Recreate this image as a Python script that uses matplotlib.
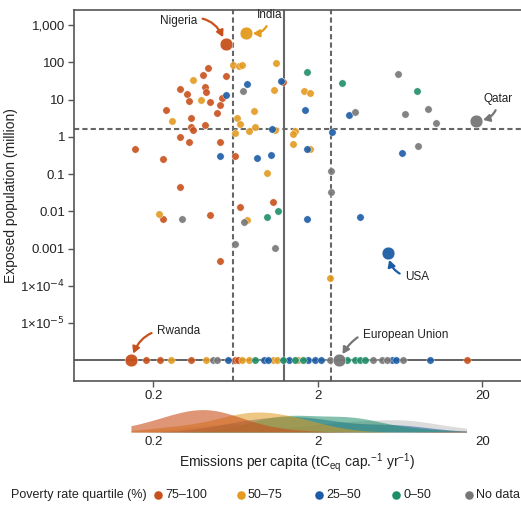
import numpy as np
import matplotlib
matplotlib.use('Agg')
import matplotlib.pyplot as plt
from matplotlib.lines import Line2D
from matplotlib.ticker import FixedLocator, FixedFormatter, NullLocator

plt.rcParams['font.family'] = ['Liberation Sans', 'DejaVu Sans']

# ---------------- data ----------------
categories = ['75–100', '50–75', '25–50', '0–50', 'No data']
colors = ['#C8501C', '#E39A1F', '#1B5CA5', '#1E8E68', '#767676']

# emissions per capita (tCeq cap-1 yr-1) and exposed population (million); 0 = no exposed population
red_x = [0.43, 0.40, 0.55, 0.29, 0.41, 0.42, 0.32, 0.52, 0.33, 0.44, 0.51, 0.24, 0.49, 0.34,
         0.41, 0.34, 0.35, 0.29, 0.33, 0.51, 0.155, 0.63, 0.23, 0.29, 1.22, 0.67, 1.06, 0.51,
         0.23, 0.44,
         0.18, 0.22, 0.34, 0.63, 0.65, 16.0]
red_y = [72, 47, 43, 19, 22, 16, 14, 11, 9.3, 8.7, 7.4, 5.2, 4.5, 3.2,
         2.1, 1.8, 1.54, 1.0, 0.73, 0.72, 0.47, 0.30, 0.25, 0.044, 30, 0.0134, 0.0176, 0.00045,
         0.0064, 0.008,
         0, 0, 0, 0, 0, 0]

gold_x = [0.61, 0.66, 0.69, 0.35, 0.39, 0.82, 0.26, 0.64, 0.67, 0.83, 0.76, 0.63, 1.11, 1.08,
          1.64, 1.79, 1.10, 1.45, 1.42, 1.42, 1.78, 0.98, 0.74, 0.217, 2.38,
          0.256, 0.42, 0.69, 0.76, 1.07, 1.12, 1.52]
gold_y = [86, 81, 85, 33, 10, 5.1, 2.7, 3.2, 2.2, 1.8, 1.45, 1.26, 94, 18,
          17, 15, 1.5, 1.45, 1.18, 0.63, 0.47, 0.108, 0.0058, 0.0087, 0.000165,
          0, 0, 0, 0, 0, 0, 0]

blue_x = [0.74, 0.55, 1.19, 1.68, 3.1, 1.05, 2.45, 1.71, 6.5, 1.04, 0.51, 0.85, 1.72, 3.59,
          0.57, 0.94, 1.0, 1.33, 1.75, 1.92, 2.1, 5.6, 6.0, 9.6]
blue_y = [26, 13.5, 32, 5.4, 3.8, 1.64, 1.39, 0.48, 0.37, 0.32, 0.31, 0.27, 0.0064, 0.007,
          0, 0, 0, 0, 0, 0, 0, 0, 0, 0]

green_x = [1.72, 2.79, 8.0, 1.14, 0.98,
           0.83, 1.23, 1.46, 1.63, 2.99, 3.36, 3.6, 3.86]
green_y = [54, 28, 17, 0.0103, 0.0071,
           0, 0, 0, 0, 0, 0, 0, 0]

gray_x = [0.70, 6.15, 3.36, 9.3, 6.8, 10.4, 8.1, 2.39, 2.39, 0.71, 0.30, 0.63, 1.10,
          0.46, 0.49, 2.36, 4.34, 4.88, 5.23, 6.6]
gray_y = [17, 49, 4.8, 5.7, 4.2, 2.3, 0.57, 0.12, 0.033, 0.0052, 0.0064, 0.00133, 0.00104,
          0, 0, 0, 0, 0, 0, 0]

# highlighted countries
hl_names = ['Nigeria', 'India', 'Qatar', 'USA', 'European Union', 'Rwanda']
hl_x = [0.55, 0.73, 18.3, 5.3, 2.69, 0.146]
hl_y = [320, 630, 2.7, 0.00075, 0, 0]
hl_cat = [0, 1, 4, 2, 4, 0]

# reference lines
vline_dashed = [0.61, 2.39]
vline_solid = 1.24
hline_dashed = 1.67

# emissions range covered by the density strip
kde_range = [0.146, 16.0]

xticks = [0.2, 2, 20]
xtick_labels = ['0.2', '2', '20']
yticks = [1000, 100, 10, 1, 0.1, 0.01, 0.001, 1e-4, 1e-5]
ytick_labels = ['1,000', '100', '10', '1', '0.1', '0.01', '0.001',
                '1×10$^{-4}$', '1×10$^{-5}$']

ZERO_Y = 1e-6

series_x = [red_x, gold_x, blue_x, green_x, gray_x]
series_y = [red_y, gold_y, blue_y, green_y, gray_y]

# ---------------- figure ----------------
W, H = 521, 508
fig = plt.figure(figsize=(W / 100, H / 100), dpi=100)

def fx(px):
    return px / W

def fy(py):
    return 1 - py / H

ax = fig.add_axes([fx(74), fy(381), fx(521) - fx(74), fy(10) - fy(381)])
ax.set_xscale('log')
ax.set_yscale('log')
ax.set_xlim(0.0658, 34.3)
ax.set_ylim(2.75e-7, 2570)

line_col = '#666666'
for v in vline_dashed:
    ax.axvline(v, color=line_col, lw=1.5, ls=(0, (2.5, 1.5)), zorder=1)
ax.axvline(vline_solid, color=line_col, lw=1.5, zorder=1)
ax.axhline(hline_dashed, color=line_col, lw=1.5, ls=(0, (2.5, 1.5)), zorder=1)
ax.axhline(ZERO_Y, color='#555555', lw=1.3, zorder=1)

for xs, ys, c in zip(series_x, series_y, colors):
    ys_plot = [y if y > 0 else ZERO_Y for y in ys]
    ax.scatter(xs, ys_plot, s=28, color=c, alpha=0.9, edgecolor='white',
               linewidth=0.3, zorder=3)

for x, y, ci in zip(hl_x, hl_y, hl_cat):
    ax.scatter([x], [y if y > 0 else ZERO_Y], s=85, color=colors[ci], alpha=0.95,
               edgecolor='white', linewidth=0.4, zorder=4)

# annotations: text position (data coords), arc curvature
ann_layout = {
    'Nigeria': ((0.284, 1300), -0.5, 'center'),
    'India': ((1.02, 1900), -0.55, 'center'),
    'Qatar': ((25.0, 10.5), -0.45, 'center'),
    'USA': ((8.0, 1.72e-4), -0.45, 'center'),
    'European Union': ((6.8, 4.8e-6), 0.45, 'center'),
    'Rwanda': ((0.284, 6.1e-6), 0.45, 'center'),
}
for name, x, y, ci in zip(hl_names, hl_x, hl_y, hl_cat):
    (tx, ty), rad, ha = ann_layout[name]
    ax.annotate(name, xy=(x, y if y > 0 else ZERO_Y), xytext=(tx, ty),
                ha=ha, va='center', fontsize=8.5, color='#222222',
                arrowprops=dict(arrowstyle='-|>,head_length=0.45,head_width=0.25',
                                connectionstyle=f'arc3,rad={rad}',
                                color=colors[ci], lw=1.6, shrinkA=2, shrinkB=5),
                zorder=5)

ax.xaxis.set_major_locator(FixedLocator(xticks))
ax.xaxis.set_major_formatter(FixedFormatter(xtick_labels))
ax.xaxis.set_minor_locator(NullLocator())
ax.yaxis.set_major_locator(FixedLocator(yticks))
ax.yaxis.set_major_formatter(FixedFormatter(ytick_labels))
ax.yaxis.set_minor_locator(NullLocator())
ax.tick_params(axis='both', labelsize=9.5, length=4, width=1, color='#555555',
               labelcolor='#222222', pad=2.5)
for sp in ['left', 'bottom', 'top']:
    ax.spines[sp].set_color('#555555')
    ax.spines[sp].set_linewidth(1.2)
ax.spines['right'].set_visible(False)
ax.set_ylabel('Exposed population (million)', fontsize=10, color='#222222')
ax.yaxis.set_label_coords((18 - 74) / (521 - 74), 0.5)

# ---------------- density strip ----------------
axk = fig.add_axes([fx(74), fy(432), fx(521) - fx(74), fy(404) - fy(432)])
axk.set_xscale('log')
axk.set_xlim(ax.get_xlim())
grid = np.linspace(np.log10(kde_range[0]), np.log10(kde_range[1]), 400)
bw = 0.18

def kde(vals):
    v = np.log10(np.asarray(vals, float))
    d = (grid[:, None] - v[None, :]) / bw
    return np.exp(-0.5 * d ** 2).sum(1) / (len(v) * bw * np.sqrt(2 * np.pi))

dens = []
for i, xs in enumerate(series_x):
    extra = [x for x, c in zip(hl_x, hl_cat) if c == i]
    dens.append(kde(list(xs) + extra))
order = [4, 2, 3, 1, 0]
alphas = {0: 0.6, 1: 0.55, 2: 0.55, 3: 0.55, 4: 0.25}
for i in order:
    axk.fill_between(10 ** grid, 0, dens[i], color=colors[i], alpha=alphas[i], lw=0)
axk.set_ylim(0, max(d.max() for d in dens) * 1.25)
for sp in axk.spines.values():
    sp.set_visible(False)
axk.set_yticks([])
axk.xaxis.set_major_locator(FixedLocator(xticks))
axk.xaxis.set_major_formatter(FixedFormatter(xtick_labels))
axk.xaxis.set_minor_locator(NullLocator())
axk.tick_params(axis='x', length=0, labelsize=9.5, labelcolor='#222222', pad=3)

fig.text(fx(297), fy(463), 'Emissions per capita (tC$_{\\mathregular{eq}}$ cap.$^{\\mathregular{-1}}$ yr$^{\\mathregular{-1}}$)',
         ha='center', va='center', fontsize=10, color='#222222')

# ---------------- legend row ----------------
ly = fy(495)
fig.text(fx(11), ly, 'Poverty rate quartile (%)', ha='left', va='center',
         fontsize=9, color='#222222')
marker_px = [158, 241, 319, 396, 469]
for mx, lab, c in zip(marker_px, categories, colors):
    fig.add_artist(Line2D([fx(mx)], [ly], marker='o', markersize=6.5, color=c,
                          markeredgecolor='white', markeredgewidth=0.3, ls='none',
                          transform=fig.transFigure))
    fig.text(fx(mx + 7), ly, lab, ha='left', va='center', fontsize=9, color='#222222')

fig.savefig('out.png', dpi=100)
